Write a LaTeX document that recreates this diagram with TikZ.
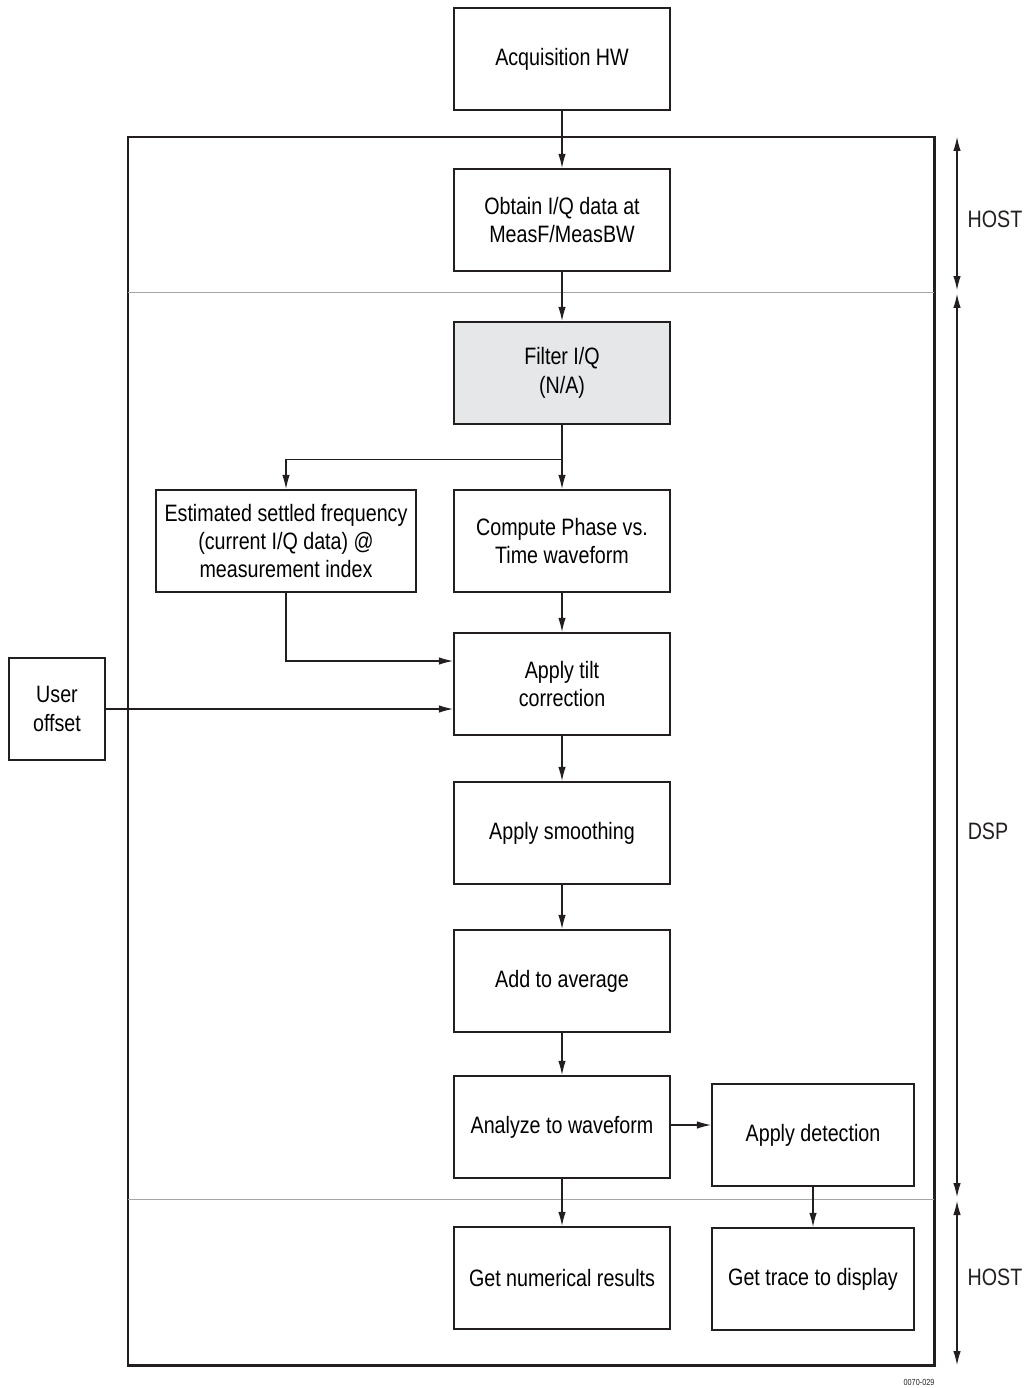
\documentclass[tikz,border=0pt]{standalone}
\usepackage{fontspec}
\setmainfont[FakeStretch=0.83]{Liberation Sans}
\usepackage{xcolor}
\usetikzlibrary{arrows.meta, calc, positioning}

\definecolor{boxgray}{HTML}{E6E7E8}
\definecolor{ink}{HTML}{231F20}

\begin{document}
\begin{tikzpicture}[x=0.02cm, y=-0.02cm, >={Latex[length=2.8mm,width=1.5mm]},
    box/.style={draw=ink, line width=1.3pt, minimum width=4.32cm, minimum height=2.04cm,
        align=center, inner sep=2pt, font=\fontsize{13.5}{16.2}\selectfont},
    flow/.style={->, line width=0.6pt, draw=ink},
    span/.style={<->, line width=0.6pt, draw=ink},
    side/.style={font=\fontsize{13.5}{16.2}\selectfont, text=ink}]
    \useasboundingbox (0,0) rectangle (1024,1388);

    % 1. Outer frame and divisions
    \draw[ink, line width=1.7pt] (128,137) rectangle (934,1365);
    \draw[gray!70, line width=0.5pt] (128,292) -- (934,292);
    \draw[gray!70, line width=0.5pt] (128,1199) -- (934,1199);

    % 2. Boxes
    \node[box] (acq) at (562,59) {Acquisition HW};
    \node[box] (obtain) at (562,220) {Obtain I/Q data at\\MeasF/MeasBW};
    \node[box, fill=boxgray] (filter) at (562,373) {Filter I/Q\\(N/A)};
    \node[box, minimum width=5.2cm] (estim) at (286,541)
        {Estimated settled frequency\\(current I/Q data) @\\measurement index};
    \node[box] (phase) at (562,541) {Compute Phase vs.\\Time waveform};
    \node[box] (tilt) at (562,684) {Apply tilt\\correction};
    \node[box, minimum width=1.92cm] (user) at (57,709) {User\\offset};
    \node[box] (smooth) at (562,833) {Apply smoothing};
    \node[box] (avg) at (562,981) {Add to average};
    \node[box] (analyze) at (562,1127) {Analyze to waveform};
    \node[box, minimum width=4.04cm] (detect) at (813,1135) {Apply detection};
    \node[box] (numres) at (562,1278) {Get numerical results};
    \node[box, minimum width=4.04cm] (trace) at (813,1279) {Get trace to display};

    % 3. Connectors
    \draw[flow] (acq) -- (obtain);
    \draw[flow] (obtain) -- (filter);
    \draw[flow] (filter) -- (phase);
    \draw[flow] (filter.south) ++(0,34) -| (estim.north);
    \draw[flow] (estim.south) |- ($(tilt.west)+(0,-23)$);
    \draw[flow] (user.east) -- (user.east -| tilt.west);
    \draw[flow] (phase) -- (tilt);
    \draw[flow] (tilt) -- (smooth);
    \draw[flow] (smooth) -- (avg);
    \draw[flow] (avg) -- (analyze);
    \draw[flow] (analyze.east |- 0,1125) -- (detect.west |- 0,1125);
    \draw[flow] (analyze) -- (numres);
    \draw[flow] (detect) -- (trace);

    % 4. Side spans
    \coordinate (h1a) at (957,137);
    \coordinate (h1b) at (957,290);
    \coordinate (d1a) at (957,294);
    \coordinate (d1b) at (957,1197);
    \coordinate (h2a) at (957,1201);
    \coordinate (h2b) at (957,1365);
    \draw[span] (h1a) -- (h1b);
    \draw[span] (d1a) -- (d1b);
    \draw[span] (h2a) -- (h2b);
    \node[side] (hosttop) at (995,219) {HOST};
    \node[side] (dsp) at (988,831) {DSP};
    \node[side] (hostbot) at (995,1277) {HOST};

    \node[text=ink, font=\fontsize{5}{6}\selectfont] (figno) at (919,1382) {0070-029};
\end{tikzpicture}
\end{document}
